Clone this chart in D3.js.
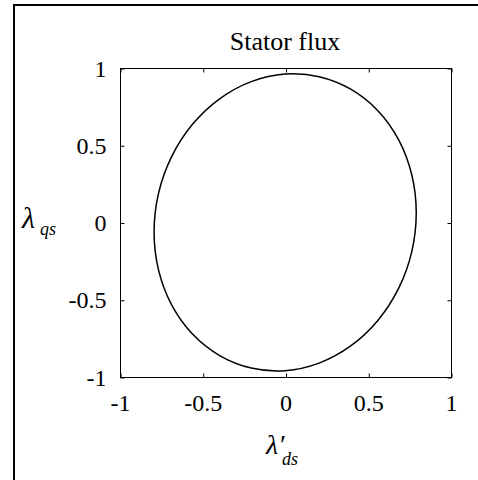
<!DOCTYPE html>
<html>
<head>
<meta charset="utf-8">
<script src="https://cdn.jsdelivr.net/npm/d3@7"></script>
<style>
  html, body { margin: 0; padding: 0; background: #fff; font-family: "Liberation Serif"; }
  svg { display: block; font-family: "Liberation Serif"; }
  svg text { font-family: "Liberation Serif" !important; }
</style>
</head>
<body>
<svg id="chart" width="478" height="480"></svg>
<script>
// Stator flux trajectory in the d-q plane (one electrical revolution)
const fluxD = [0.787, 0.760, 0.681, 0.555, 0.391, 0.200, -0.005, -0.210, -0.401, -0.565, -0.691, -0.770,
               -0.797, -0.770, -0.691, -0.565, -0.401, -0.210, -0.005, 0.200, 0.391, 0.555, 0.681, 0.760];
const fluxQ = [0.066, 0.312, 0.538, 0.727, 0.866, 0.947, 0.964, 0.915, 0.804, 0.639, 0.430, 0.193,
               -0.058, -0.305, -0.530, -0.719, -0.858, -0.939, -0.956, -0.907, -0.796, -0.631, -0.422, -0.185];
const xTicks = [-1, -0.5, 0, 0.5, 1];
const yTicks = [-1, -0.5, 0, 0.5, 1];
const titleText = "Stator flux";

const svg = d3.select("#chart");
const plotL = 120.5, plotR = 451.5, plotT = 68.5, plotB = 377.5;

const x = d3.scaleLinear().domain([-1, 1]).range([plotL, plotR]);
const y = d3.scaleLinear().domain([-1, 1]).range([plotB, plotT]);

// text helper with the serif face
function label(parent, px, py, size, str, italic) {
  return parent.append("text")
    .attr("font-family", "Liberation Serif")
    .style("font-style", italic ? "italic" : "normal")
    .attr("x", px).attr("y", py).attr("font-size", size).attr("fill", "#000")
    .text(str);
}

// title
label(svg, 285, 50, 26, titleText, false).attr("text-anchor", "middle");

// y label: lambda_qs
label(svg, 22, 228, 30, "λ", true);
label(svg, 40, 235, 18, "qs", true);

// x label: lambda'_ds
label(svg, 266, 454, 28, "λ′", true);
label(svg, 282, 465, 18, "ds", true);

// tick labels, placed with the scales
const tickG = svg.append("g");
xTicks.forEach(v => label(tickG, x(v), plotB + 33, 24, String(v), false).attr("text-anchor", "middle"));
yTicks.forEach(v => label(tickG, plotL - 14, y(v) + 8, 24, String(v), false).attr("text-anchor", "end"));

// outer figure frame
svg.append("rect")
  .attr("x", 14).attr("y", 5)
  .attr("width", 520).attr("height", 520)
  .attr("fill", "none").attr("stroke", "#000").attr("stroke-width", 2);

const tickLen = 4;

// tick marks on all four sides of the box
const axes = [
  svg.append("g").attr("transform", `translate(0,${plotB})`)
    .call(d3.axisBottom(x).tickValues(xTicks).tickFormat("").tickSizeInner(-tickLen).tickSizeOuter(0)),
  svg.append("g").attr("transform", `translate(0,${plotT})`)
    .call(d3.axisTop(x).tickValues(xTicks).tickFormat("").tickSizeInner(-tickLen).tickSizeOuter(0)),
  svg.append("g").attr("transform", `translate(${plotL},0)`)
    .call(d3.axisLeft(y).tickValues(yTicks).tickFormat("").tickSizeInner(-tickLen).tickSizeOuter(0)),
  svg.append("g").attr("transform", `translate(${plotR},0)`)
    .call(d3.axisRight(y).tickValues(yTicks).tickFormat("").tickSizeInner(-tickLen).tickSizeOuter(0))
];
axes.forEach(g => {
  g.select(".domain").remove();
  g.selectAll("text").remove();
  g.selectAll("line").attr("stroke", "#000").attr("stroke-width", 1);
});

// plot box
svg.append("rect")
  .attr("x", plotL).attr("y", plotT)
  .attr("width", plotR - plotL).attr("height", plotB - plotT)
  .attr("fill", "none").attr("stroke", "#000").attr("stroke-width", 1);

// flux locus
const pts = fluxD.map((d, i) => [d, fluxQ[i]]);
svg.append("path")
  .datum(pts)
  .attr("d", d3.line().x(d => x(d[0])).y(d => y(d[1])).curve(d3.curveCatmullRomClosed))
  .attr("fill", "none").attr("stroke", "#000").attr("stroke-width", 1.5);
</script>
</body>
</html>
